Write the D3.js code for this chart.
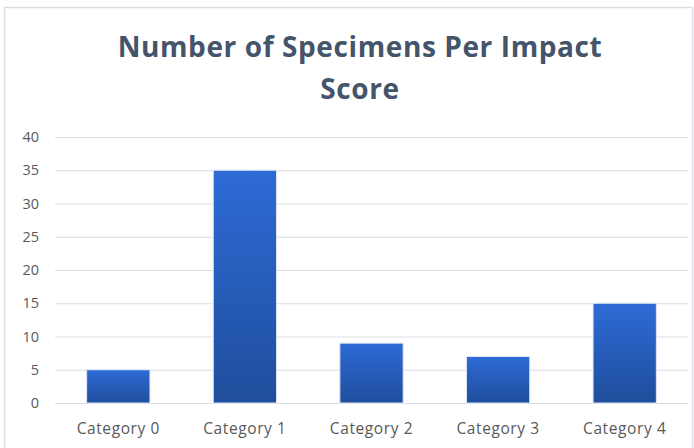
<!DOCTYPE html>
<html><head><meta charset="utf-8">
<script src="https://cdn.jsdelivr.net/npm/d3@7"></script>
<style>body{margin:0;background:#fff}svg{display:block}</style>
</head><body>
<svg id="c" width="694" height="448"></svg>
<script>
const categories = ["Category 0","Category 1","Category 2","Category 3","Category 4"];
const values = [5, 35, 9, 7, 15];
const yTicks = [0,5,10,15,20,25,30,35,40];
const titleLines = ["Number of Specimens Per Impact","Score"];

const svg = d3.select("#c");
const W = 694, H = 448;
const m = {l:55, r:6, t:137, b:45};

// frame
svg.append("path").attr("d","M4.5,460V7.5H692.5V460").attr("fill","none").attr("stroke","#d9dde5").attr("stroke-width",1.5);

const defs = svg.append("defs");
const g = defs.append("linearGradient").attr("id","bg").attr("x1",0).attr("y1",0).attr("x2",0).attr("y2",1);
g.append("stop").attr("offset","0%").attr("stop-color","#2e6bd6");
g.append("stop").attr("offset","100%").attr("stop-color","#1f4e9c");

const x = d3.scaleBand().domain(categories).range([m.l, W-m.r]).paddingInner(0.5).paddingOuter(0.25);
const y = d3.scaleLinear().domain([0,40]).range([H-m.b, m.t]);

const yAxis = svg.append("g").attr("transform",`translate(${m.l},0)`)
  .call(d3.axisLeft(y).tickValues(yTicks).tickSize(-(W-m.r-m.l)).tickPadding(16));
yAxis.select(".domain").remove();
yAxis.selectAll(".tick line").attr("stroke","#d9dde5").attr("stroke-width",1);
yAxis.selectAll(".tick text").attr("fill","#595959").attr("font-family","'Open Sans',sans-serif").attr("font-size",14.5);

svg.append("g").selectAll("rect").data(values).join("rect")
  .attr("x",(d,i)=>x(categories[i])).attr("width",x.bandwidth())
  .attr("y",d=>y(d)).attr("height",d=>y(0)-y(d))
  .attr("fill","url(#bg)").attr("stroke","#dfe6f3").attr("stroke-width",1);

const xAxis = svg.append("g").attr("transform",`translate(0,${y(0)})`)
  .call(d3.axisBottom(x).tickSize(0).tickPadding(20));
xAxis.select(".domain").remove();
xAxis.selectAll(".tick text").attr("fill","#595959").attr("font-family","'Open Sans',sans-serif").attr("font-size",15.5).attr("letter-spacing",0.6);

svg.append("g").selectAll("text").data(titleLines).join("text")
  .attr("x",360).attr("y",(d,i)=>57+i*42).attr("text-anchor","middle")
  .attr("font-family","'Open Sans',sans-serif").attr("font-weight","bold").attr("font-size",28)
  .attr("letter-spacing",0.6)
  .attr("fill","#44546a").text(d=>d);
</script>
</body></html>
